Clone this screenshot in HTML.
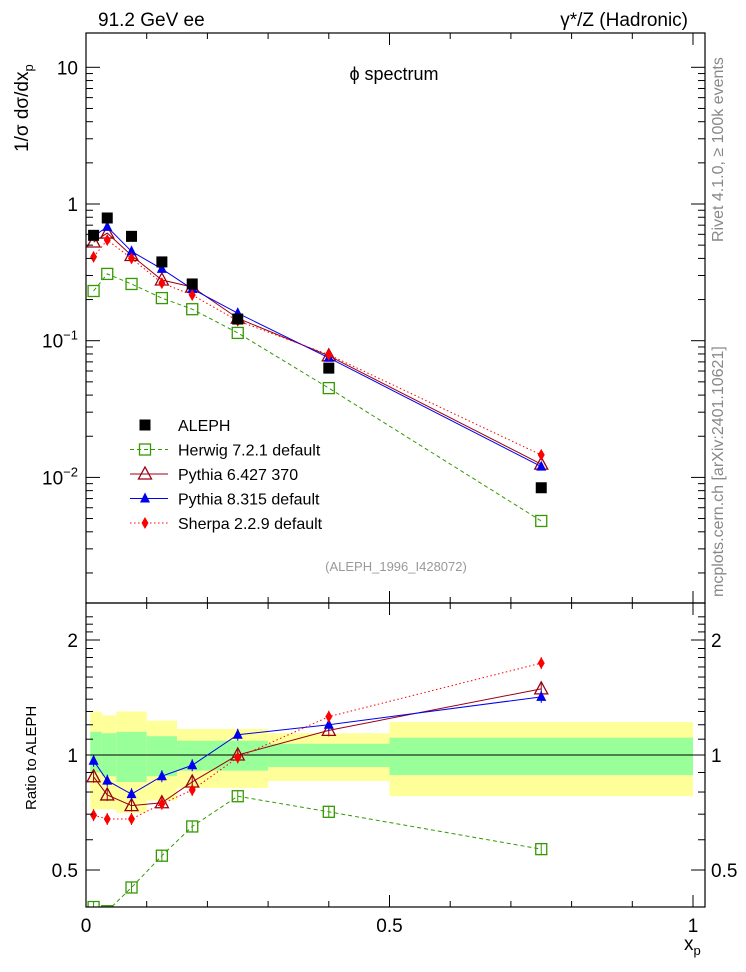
<!DOCTYPE html>
<html><head><meta charset="utf-8"><style>
body{margin:0;background:#fff;}
svg{display:block;font-family:"Liberation Sans",sans-serif;}
</style></head><body>
<svg id="c" width="746" height="972" viewBox="0 0 746 972" xmlns="http://www.w3.org/2000/svg">
<text x="98" y="26" font-size="19">91.2 GeV ee</text>
<text x="688" y="26" font-size="19" text-anchor="end">γ*/Z (Hadronic)</text>
<text x="394" y="80" font-size="18" text-anchor="middle">ϕ spectrum</text>
<text x="396" y="571" font-size="13" fill="#999" text-anchor="middle">(ALEPH_1996_I428072)</text>
<text transform="translate(723,242) rotate(-90)" font-size="16" fill="#888">Rivet 4.1.0, ≥ 100k events</text>
<text transform="translate(723,597) rotate(-90)" font-size="16" fill="#888">mcplots.cern.ch [arXiv:2401.10621]</text>
<text transform="translate(28,152) rotate(-90)" font-size="19">1/σ  dσ/dx<tspan font-size="13" dy="5">p</tspan></text>
<text transform="translate(36,810) rotate(-90)" font-size="15">Ratio to ALEPH</text>
<text x="684" y="950" font-size="19">x<tspan font-size="13" dy="5">p</tspan></text>
<g id="g"></g>
</svg>
<script>
const xs=[0.0125,0.035,0.075,0.125,0.175,0.25,0.4,0.75];
const aleph=[0.59,0.79,0.58,0.377,0.26,0.144,0.063,0.0084];
const herwig=[0.231,0.308,0.26,0.205,0.17,0.114,0.045,0.0048];
const py6=[0.527,0.613,0.42,0.278,0.247,0.146,0.0775,0.0125];
const py8=[0.58,0.68,0.45,0.335,0.239,0.159,0.075,0.012];
const sherpa=[0.41,0.545,0.40,0.264,0.216,0.14,0.079,0.0146];
const rHerwig=[0.40,0.39,0.45,0.545,0.65,0.78,0.71,0.567];
const rPy6=[0.877,0.786,0.737,0.75,0.85,1.0,1.16,1.49];
const rPy8=[0.966,0.857,0.79,0.88,0.94,1.13,1.2,1.42];
const rSherpa=[0.696,0.68,0.68,0.745,0.81,0.985,1.26,1.74];
const bandEdges=[0.007,0.026,0.05,0.1,0.15,0.3,0.5,1.0];
const yelHi=[1.30,1.27,1.30,1.23,1.17,1.14,1.22];
const yelLo=[0.72,0.72,0.705,0.76,0.82,0.855,0.78];
const grnHi=[1.15,1.14,1.15,1.12,1.09,1.07,1.11];
const grnLo=[0.90,0.88,0.85,0.88,0.91,0.93,0.886];
const xTicks=["0","0.5","1"];
const yTicks=["10⁻²","10⁻¹","1","10"];
const rTicks=["0.5","1","2"];

const L=86,R=705,T=33,MB=603,RB=907;
const X=v=>86+607*v;
const Y=v=>204-136.7*Math.log10(v);
const RY=v=>755-115*Math.log2(v);
const NS="http://www.w3.org/2000/svg";
const g=document.getElementById('g');
function el(t,a,p){const e=document.createElementNS(NS,t);for(const k in a)e.setAttribute(k,a[k]);(p||g).appendChild(e);return e;}

for(let i=0;i<yelHi.length;i++){
 const b=el('rect',{x:X(bandEdges[i]),y:RY(yelHi[i]),width:X(bandEdges[i+1])-X(bandEdges[i]),height:RY(yelLo[i])-RY(yelHi[i]),fill:'#ffff99'});
 
 
 const c=el('rect',{x:X(bandEdges[i]),y:RY(grnHi[i]),width:X(bandEdges[i+1])-X(bandEdges[i]),height:RY(grnLo[i])-RY(grnHi[i]),fill:'#99ff99'});
 
 
}
const one=el('line',{x1:L,x2:R,y1:RY(1),y2:RY(1),stroke:'#000','stroke-width':1});



const defs=el('defs',{});
const c1=el('clipPath',{id:'cm'},defs);el('rect',{x:L,y:T,width:R-L,height:MB-T},c1);
const c2=el('clipPath',{id:'cr'},defs);el('rect',{x:L,y:MB,width:R-L,height:RB-MB},c2);

function marker(kind,x,y,col,parent){
 let m;
 if(kind==='sq')m=el('rect',{x:x-5.5,y:y-5.5,width:11,height:11,fill:'#000'},parent);
 else if(kind==='osq')m=el('rect',{x:x-5.5,y:y-5.5,width:11,height:11,fill:'#fff','fill-opacity':0,stroke:col,'stroke-width':1.3},parent);
 else if(kind==='otri')m=el('polygon',{points:`${x},${y-7} ${x-6.5},${y+5} ${x+6.5},${y+5}`,fill:'none',stroke:col,'stroke-width':1.3},parent);
 else if(kind==='tri')m=el('polygon',{points:`${x},${y-6} ${x-5},${y+4} ${x+5},${y+4}`,fill:col},parent);
 else m=el('polygon',{points:`${x},${y-6} ${x-3.5},${y} ${x},${y+6} ${x+3.5},${y}`,fill:col},parent);
 return m;
}
const series=[
 {name:'herwig',v:herwig,r:rHerwig,col:'#339900',dash:'4,3',m:'osq'},
 {name:'pythia6',v:py6,r:rPy6,col:'#990011',dash:'',m:'otri'},
 {name:'pythia8',v:py8,r:rPy8,col:'#0000ee',dash:'',m:'tri'},
 {name:'sherpa',v:sherpa,r:rSherpa,col:'#ff0000',dash:'1.5,2.5',m:'dia'}
];
const gm=el('g',{'clip-path':'url(#cm)'});
const gr=el('g',{'clip-path':'url(#cr)'});
series.forEach(s=>{
 const l1=el('polyline',{points:xs.map((x,i)=>X(x)+','+Y(s.v[i])).join(' '),fill:'none',stroke:s.col,'stroke-width':1,'stroke-dasharray':s.dash},gm);
 
 
 const l2=el('polyline',{points:xs.map((x,i)=>X(x)+','+RY(s.r[i])).join(' '),fill:'none',stroke:s.col,'stroke-width':1,'stroke-dasharray':s.dash},gr);
 
 
 xs.forEach((x,i)=>{
  const a=marker(s.m,X(x),Y(s.v[i]),s.col,gm);
  
  
  const ry=RY(s.r[i]);
  el('line',{x1:X(x),x2:X(x),y1:ry-6,y2:ry+6,stroke:s.col,'stroke-width':1},gr);
  const b=marker(s.m,X(x),ry,s.col,gr);
  
  
 });
});
xs.forEach((x,i)=>{
 const a=marker('sq',X(x),Y(aleph[i]),'#000',gm);
 
 
});

[[T,MB],[MB,RB]].forEach(([t,b])=>{
 const f=el('rect',{x:L,y:t,width:R-L,height:b-t,fill:'none',stroke:'#000','stroke-width':1.2});
 
 
 for(let k=0;k<=10;k++){
  const x=X(k/10),len=(k%5===0)?12:6;
  el('line',{x1:x,x2:x,y1:b,y2:b-len,stroke:'#000'});
  el('line',{x1:x,x2:x,y1:t,y2:t+len,stroke:'#000'});
 }
});
xTicks.forEach(t=>{
 const e=el('text',{x:X(parseFloat(t)),y:932,'font-size':19,'text-anchor':'middle'});
 e.textContent=t;
 
 
});
for(let d=-3;d<=1;d++){
 for(let m=1;m<10;m++){
  const v=m*Math.pow(10,d),y=Y(v);
  if(y<T||y>MB)continue;
  const len=m===1?14:7;
  el('line',{x1:L,x2:L+len,y1:y,y2:y,stroke:'#000'});
  el('line',{x1:R,x2:R-len,y1:y,y2:y,stroke:'#000'});
 }
}
yTicks.forEach((t,i)=>{
 const v=Math.pow(10,i-2);
 const e=el('text',{x:78,y:Y(v)+7,'font-size':19,'text-anchor':'end'});
 if(i<2){e.textContent='10';const s=el('tspan',{dy:-8,'font-size':13},e);s.textContent=i===0?'−2':'−1';}
 else e.textContent=t;
 
 
});
for(let v=0.4;v<=2.35;v+=0.1){
 const y=RY(v);if(y<MB||y>RB)continue;
 const maj=[0.5,1,2].some(q=>Math.abs(q-v)<1e-6);
 const len=maj?14:7;
 el('line',{x1:L,x2:L+len,y1:y,y2:y,stroke:'#000'});
 el('line',{x1:R,x2:R-len,y1:y,y2:y,stroke:'#000'});
}
rTicks.forEach(t=>{
 const y=RY(parseFloat(t))+7;
 const a=el('text',{x:78,y:y,'font-size':19,'text-anchor':'end'});a.textContent=t;
 
 
 const b=el('text',{x:711,y:y,'font-size':19});b.textContent=t;
 
 
});
const leg=[['ALEPH','#000','','sq',false],['Herwig 7.2.1 default','#339900','4,3','osq',true],['Pythia 6.427 370','#990011','','otri',true],['Pythia 8.315 default','#0000ee','','tri',true],['Sherpa 2.2.9 default','#ff0000','1.5,2.5','dia',true]];
leg.forEach((e,i)=>{
 const y=425+24.5*i;
 const gl=el('g',{});
 
 
 if(e[4])el('line',{x1:130,x2:168,y1:y,y2:y,stroke:e[1],'stroke-dasharray':e[2]},gl);
 marker(e[3],145,y,e[1],gl);
 const t=el('text',{x:178,y:y+6,'font-size':16},gl);t.textContent=e[0];
});
</script>
</body></html>
